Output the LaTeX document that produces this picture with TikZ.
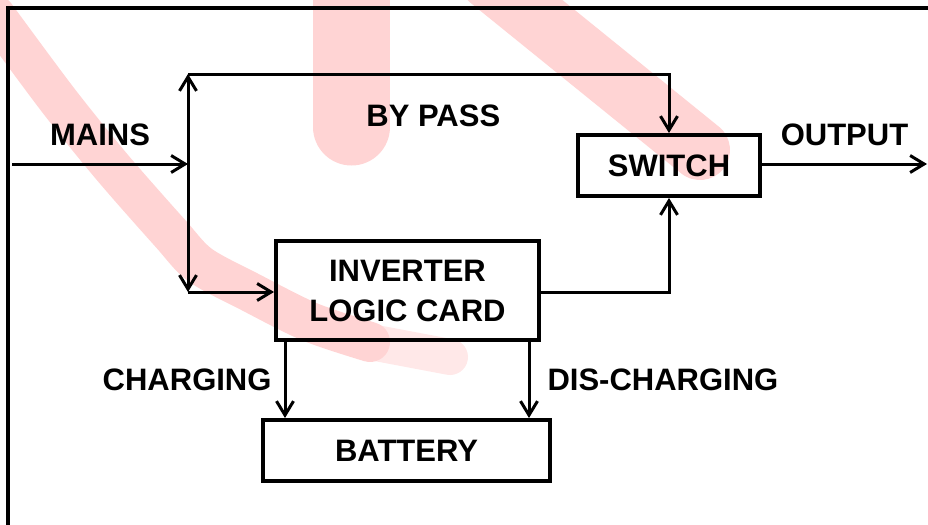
\documentclass[tikz,border=0pt]{standalone}
\usepackage{fontspec}
\setmainfont{Liberation Sans}
\usepackage{tikz}
\usetikzlibrary{arrows.meta, positioning, calc}

\newcommand{\diagfont}{\fontsize{15.5}{20}\selectfont\bfseries}

\begin{document}
\begin{tikzpicture}[
  x=0.5pt, y=-0.5pt,
  block/.style={draw, line width=2pt, inner sep=0pt, align=center, font=\diagfont},
  tag/.style={inner sep=0pt, font=\diagfont},
  wire/.style={line width=1.5pt},
  flow/.style={wire, -{Straight Barb[length=7pt, width=8.5pt, line width=1.5pt]}},
  wmark/.style={red!17, line cap=round}
]
\clip (0,0) rectangle (928,525);
% watermark in the background
\draw[wmark, line width=38.5pt] (351.5,-40) -- (351.5,127);
\draw[wmark, line width=30pt] (490,-20) -- (700,150);
\draw[wmark, red!9, line width=18pt] (360,340) -- (450,357);
\draw[wmark, line width=20pt] plot[smooth] coordinates {(-5,15) (58,100) (112,167) (170,233) (200,265) (250,292) (310,322) (370,342)};
% frame
\draw[wire, line width=2pt] (8,530) -- (8,8) -- (935,8);
% blocks
\node[block, minimum width=91pt, minimum height=30.5pt] (sw) at (669,165.5) {SWITCH};
\node[block, minimum width=131.5pt, minimum height=49.5pt] (inv) at (407.5,290.5) {INVERTER\\LOGIC CARD};
\node[block, minimum width=143.5pt, minimum height=30.5pt] (bat) at (406.5,450.5) {BATTERY};
% junctions
\coordinate (in) at (12,164);
\coordinate (bus) at (188,164);
\coordinate (bt) at (188,74);
\coordinate (bb) at (188,292);
\coordinate (out) at (927,164);
% connectors
\draw[flow] (in) -- (bus) node[midway, above=8.5pt, tag] {MAINS};
\draw[flow] (bus) -- (bt);
\draw[flow] (bus) -- (bb);
\draw[flow] (bt) -- node[pos=0.51, below=14.5pt, tag] {BY PASS} (bt -| sw) -- (sw.north);
\draw[flow] (bb) -- (bb -| inv.west);
\draw[flow] (inv.east |- bb) -- (bb -| sw) -- (sw.south);
\draw[flow] (sw.east |- out) -- (out) node[midway, above=8.5pt, tag] {OUTPUT};
\draw[flow] ([xshift=5.5pt]inv.south west) -- ([xshift=5.5pt]inv.south west |- bat.north) node[midway, left=6pt, tag] {CHARGING};
\draw[flow] ([xshift=-6pt]inv.south east) -- ([xshift=-6pt]inv.south east |- bat.north) node[midway, right=8.5pt, tag] {DIS-CHARGING};
\end{tikzpicture}
\end{document}
